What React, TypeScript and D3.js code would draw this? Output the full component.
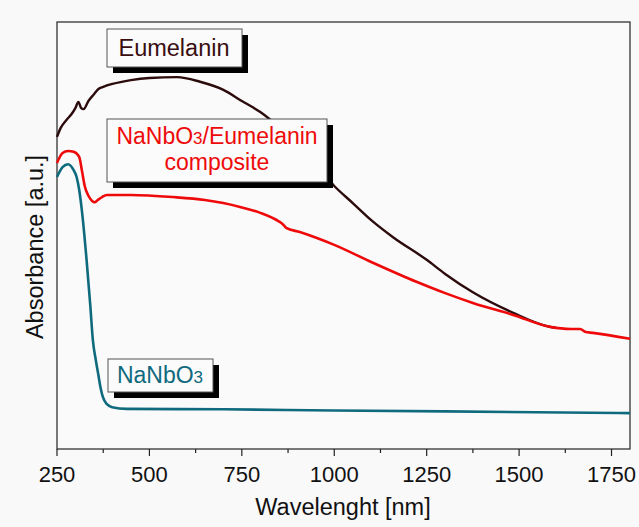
import * as d3 from "d3";

// wavelength (nm) / absorbance (a.u.)
const eumelaninNm = [250, 260, 275, 290, 300, 308, 315, 322, 335, 350, 362, 375, 400, 450, 500, 575, 637, 700, 750, 800, 850, 900, 950, 1000, 1050, 1100, 1159, 1250, 1300, 1375, 1484, 1584, 1600];
const eumelaninAbs = [0.731, 0.752, 0.770, 0.785, 0.799, 0.813, 0.799, 0.796, 0.815, 0.831, 0.843, 0.848, 0.855, 0.864, 0.869, 0.871, 0.860, 0.841, 0.815, 0.789, 0.754, 0.712, 0.665, 0.616, 0.576, 0.536, 0.496, 0.443, 0.410, 0.367, 0.319, 0.286, 0.284];

const compositeNm = [250, 265, 280, 295, 310, 318, 325, 335, 345, 352, 360, 372, 385, 450, 564, 650, 745, 800, 850, 860, 870, 907, 953, 1000, 1100, 1224, 1300, 1375, 1484, 1584, 1640, 1665, 1680, 1700, 1800];
const compositeAbs = [0.670, 0.693, 0.698, 0.696, 0.684, 0.649, 0.616, 0.593, 0.581, 0.578, 0.583, 0.590, 0.595, 0.595, 0.590, 0.583, 0.567, 0.553, 0.533, 0.527, 0.518, 0.508, 0.494, 0.478, 0.438, 0.391, 0.365, 0.342, 0.314, 0.286, 0.281, 0.281, 0.274, 0.272, 0.258];

const niobateNm = [250, 265, 280, 295, 303, 310, 318, 330, 340, 347, 355, 361, 368, 374, 385, 399, 439, 700, 1000, 1300, 1800];
const niobateAbs = [0.637, 0.660, 0.667, 0.653, 0.637, 0.607, 0.553, 0.443, 0.337, 0.255, 0.208, 0.178, 0.143, 0.122, 0.105, 0.098, 0.094, 0.093, 0.090, 0.088, 0.084];

const xTickValues = [250, 500, 750, 1000, 1250, 1500, 1750];
const xMinorValues = [375, 625, 875, 1125, 1375, 1625];

const W = 639;
const H = 527;
const left = 57;
const right = 630;
const top = 22;
const bottom = 449;

const font = "'Liberation Sans', Arial, sans-serif";

type Pt = [number, number];
const zip = (a: number[], b: number[]): Pt[] => a.map((v, i) => [v, b[i]]);

function LabelBox({ x, y, w, h, children }: { x: number; y: number; w: number; h: number; children: any }) {
  return (
    <g>
      <rect x={x + 6} y={y + 6} width={w} height={h} fill="#000" />
      <rect x={x} y={y} width={w} height={h} fill="#fbfbfb" stroke="#555" strokeWidth={1} />
      {children}
    </g>
  );
}

export default function App() {
  const x = d3.scaleLinear().domain([250, 1800]).range([left, right]);
  const y = d3.scaleLinear().domain([0, 1]).range([bottom, top]);
  const line = d3
    .line<Pt>()
    .x((d) => x(d[0]))
    .y((d) => y(d[1]))
    .curve(d3.curveMonotoneX);

  return (
    <svg
      width={W}
      height={H}
      style={{ position: "absolute", left: 0, top: 0 }}
      fontFamily={font}
    >
      <rect x={0} y={0} width={W} height={H} fill="#f9f9f9" />
      <rect x={left} y={top} width={right - left} height={bottom - top} fill="#fafafa" stroke="#222" strokeWidth={1.2} />

      <path d={line(zip(eumelaninNm, eumelaninAbs)) || ""} fill="none" stroke="#2c0b0d" strokeWidth={2.4} />
      <path d={line(zip(compositeNm, compositeAbs)) || ""} fill="none" stroke="#ee0a0a" strokeWidth={2.6} />
      <path d={line(zip(niobateNm, niobateAbs)) || ""} fill="none" stroke="#0f6a7e" strokeWidth={2.6} />

      {xTickValues.map((t) => (
        <g key={t}>
          <line x1={x(t)} x2={x(t)} y1={bottom} y2={bottom + 7} stroke="#222" strokeWidth={1.2} />
          <text x={x(t)} y={482} textAnchor="middle" fontSize={22} fill="#111">
            {t}
          </text>
        </g>
      ))}
      {xMinorValues.map((t) => (
        <line key={t} x1={x(t)} x2={x(t)} y1={bottom} y2={bottom + 4} stroke="#222" strokeWidth={1.2} />
      ))}

      <text x={343} y={515} textAnchor="middle" fontSize={23.5} fill="#111">
        Wavelenght [nm]
      </text>
      <text
        transform={`translate(43, 247) rotate(-90)`}
        textAnchor="middle"
        fontSize={23.5}
        fill="#111"
      >
        Absorbance [a.u.]
      </text>

      <LabelBox x={107} y={29} w={135} h={38}>
        <text x={174} y={56} textAnchor="middle" fontSize={23.5} fill="#3a0e10">
          Eumelanin
        </text>
      </LabelBox>

      <LabelBox x={107} y={119} w={220} h={63}>
        <text x={217} y={144} textAnchor="middle" fontSize={23} fill="#ee0a0a">
          NaNbO<tspan fontSize={17}>3</tspan>/Eumelanin
        </text>
        <text x={217} y={170} textAnchor="middle" fontSize={23} fill="#ee0a0a">
          composite
        </text>
      </LabelBox>

      <LabelBox x={108} y={359} w={105} h={33}>
        <text x={160} y={383} textAnchor="middle" fontSize={23} fill="#0f6a7e">
          NaNbO<tspan fontSize={17}>3</tspan>
        </text>
      </LabelBox>
    </svg>
  );
}
